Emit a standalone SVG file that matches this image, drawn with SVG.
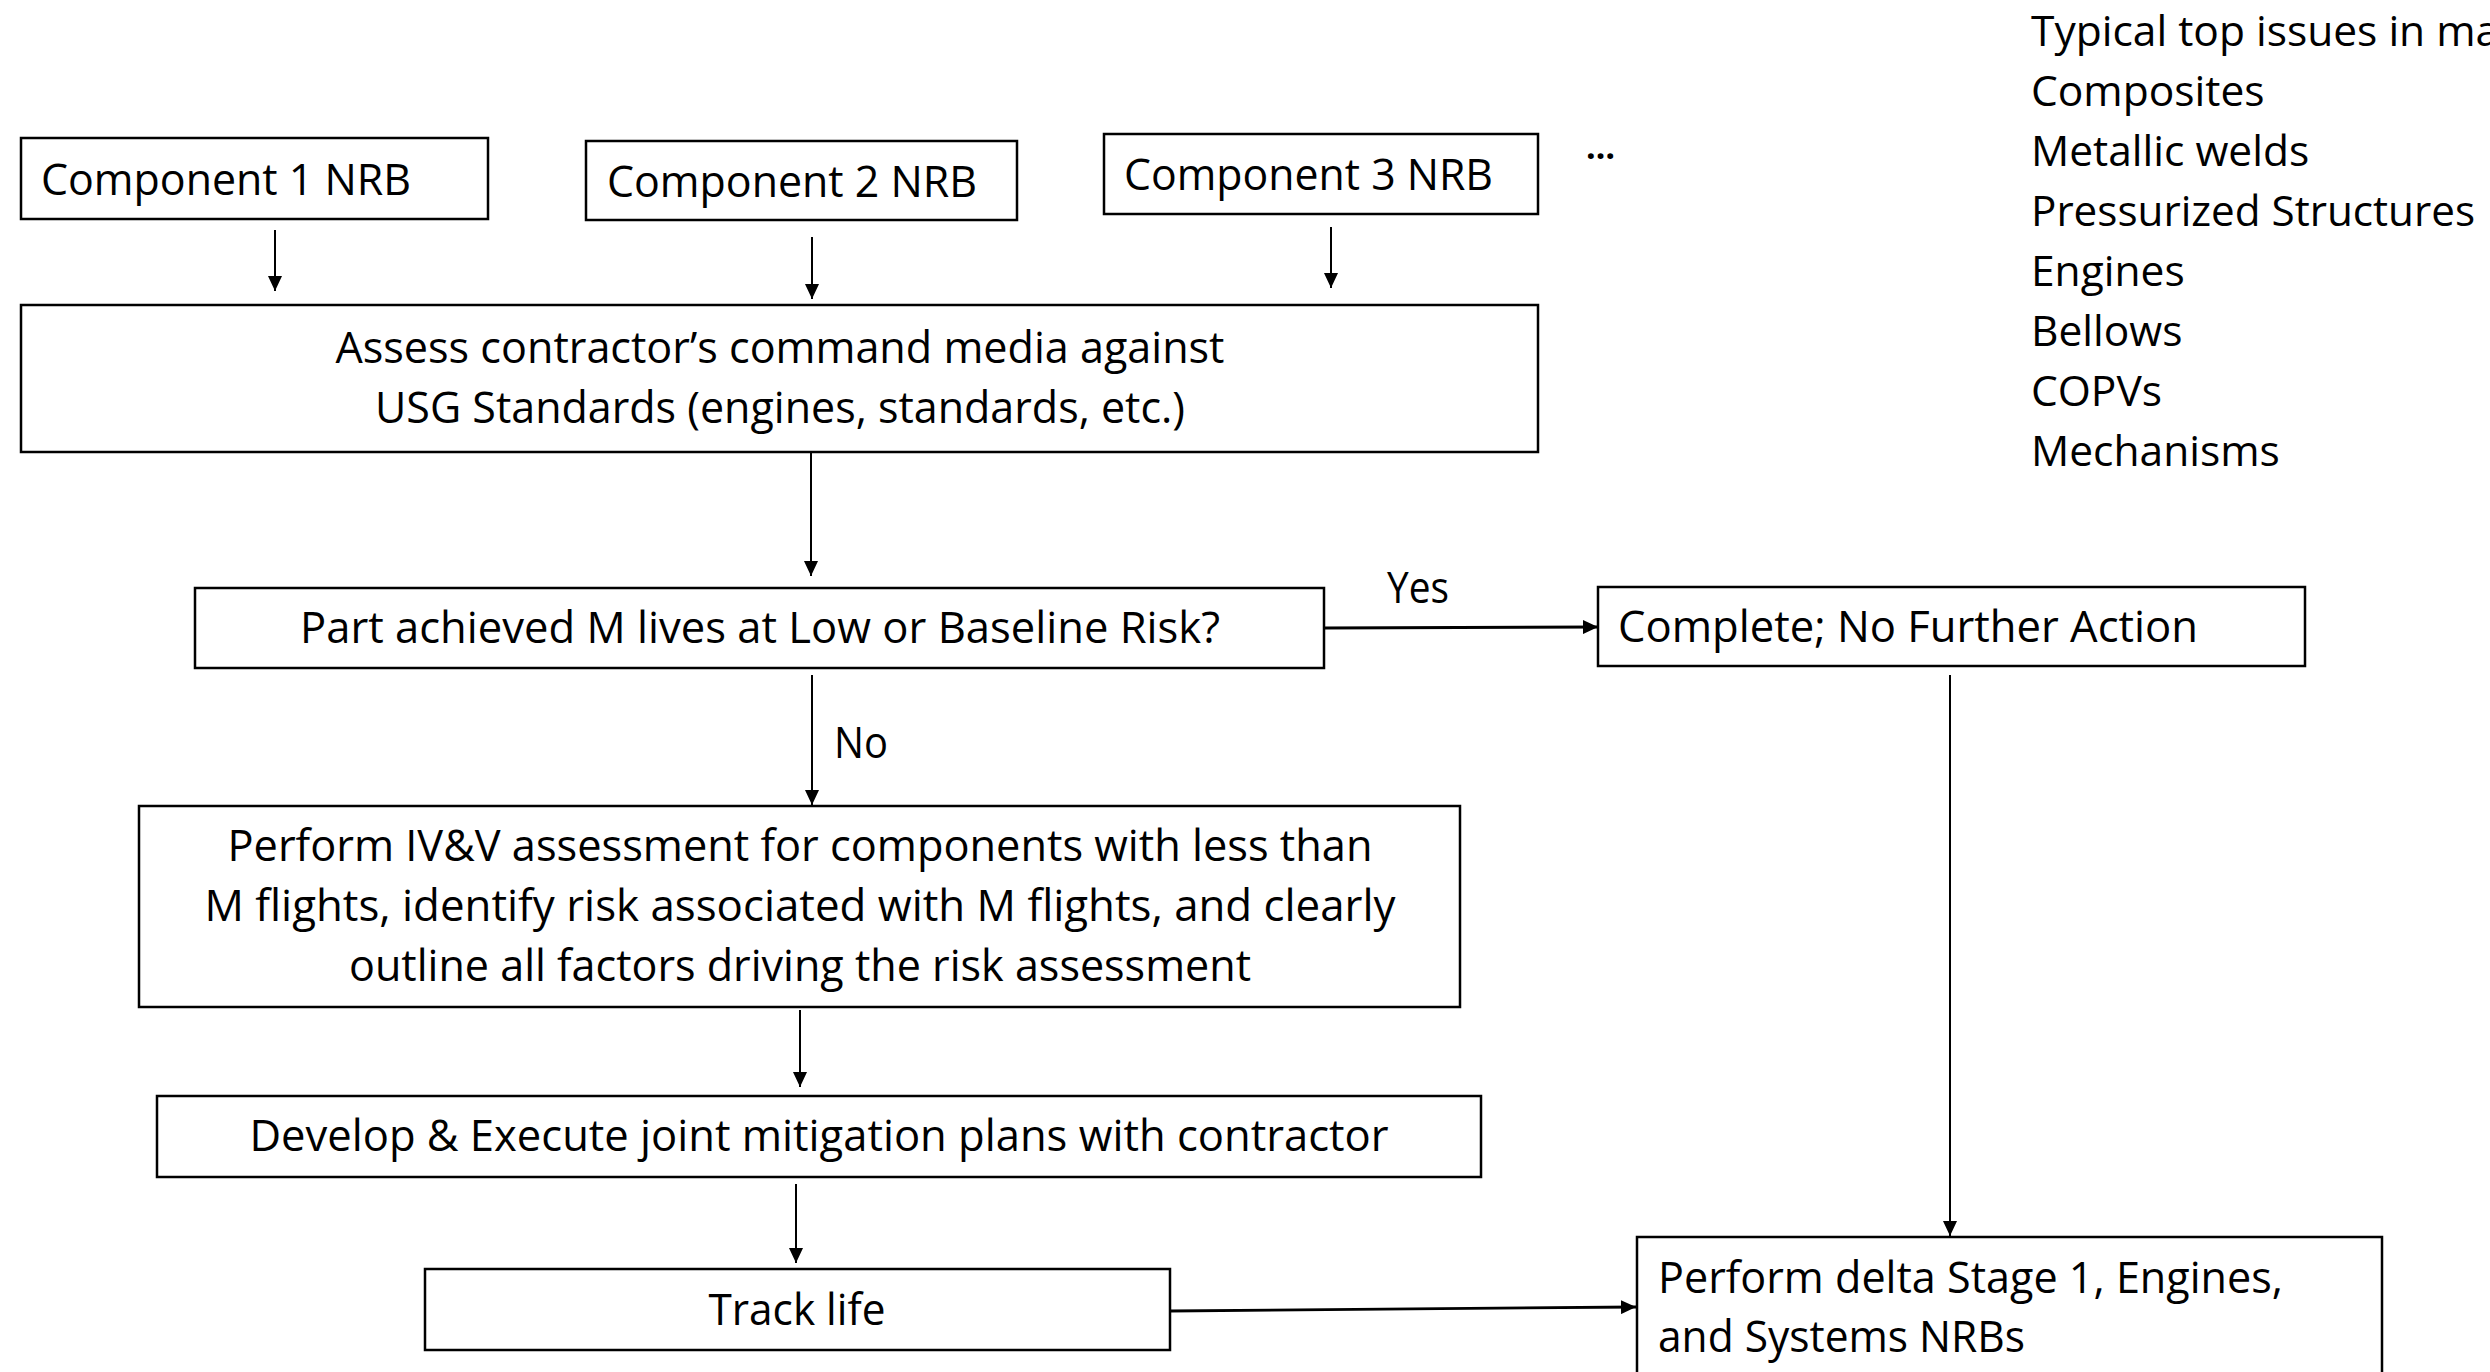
<svg xmlns="http://www.w3.org/2000/svg" width="2490" height="1372" viewBox="0 0 2490 1372">
  <defs>
    <marker id="arr" markerUnits="userSpaceOnUse" markerWidth="15" markerHeight="14" refX="15" refY="7" orient="auto">
      <path d="M0,0 L15,7 L0,14 z" fill="#000"/>
    </marker>
    <style>
      .box { fill: #fff; stroke: #000; stroke-width: 2.5; }
      .t { font-family: "Open Sans", "Liberation Sans", sans-serif; font-size: 43px; fill: #000; }
      .s { font-size: 42.5px; }
      .c { text-anchor: middle; }
      .conn { stroke: #000; stroke-width: 2; fill: none; marker-end: url(#arr); }
      .thick { stroke-width: 2.8; }
    </style>
  </defs>
  <rect width="2490" height="1372" fill="#fff"/>

  <g id="connectors">
    <line class="conn" x1="275" y1="230" x2="275" y2="291"/>
    <line class="conn" x1="812" y1="237" x2="812" y2="299"/>
    <line class="conn" x1="1331" y1="227" x2="1331" y2="288"/>
    <line class="conn" x1="811" y1="452" x2="811" y2="576"/>
    <line class="conn" x1="812" y1="675" x2="812" y2="805"/>
    <line class="conn thick" x1="1325" y1="628" x2="1598" y2="627"/>
    <line class="conn" x1="800" y1="1010" x2="800" y2="1087"/>
    <line class="conn" x1="796" y1="1184" x2="796" y2="1263"/>
    <line class="conn thick" x1="1170" y1="1311" x2="1636" y2="1307"/>
    <line class="conn" x1="1950" y1="675" x2="1950" y2="1236"/>
    <text class="t" x="1387" y="603" textLength="62" lengthAdjust="spacingAndGlyphs">Yes</text>
    <text class="t" x="834" y="758" textLength="54" lengthAdjust="spacingAndGlyphs">No</text>
  </g>

  <g id="comp1">
    <rect class="box" x="21" y="138" width="467" height="81"/>
    <text class="t" x="41" y="195" textLength="370" lengthAdjust="spacingAndGlyphs">Component 1 NRB</text>
  </g>
  <g id="comp2">
    <rect class="box" x="586" y="141" width="431" height="79"/>
    <text class="t" x="607" y="197" textLength="370" lengthAdjust="spacingAndGlyphs">Component 2 NRB</text>
  </g>
  <g id="comp3">
    <rect class="box" x="1104" y="134" width="434" height="80"/>
    <text class="t" x="1124" y="190" textLength="369" lengthAdjust="spacingAndGlyphs">Component 3 NRB</text>
  </g>
  <g id="ellipsis">
    <text class="t" x="1586" y="159" style="font-size:34px;font-weight:bold">…</text>
  </g>

  <g id="assess">
    <rect class="box" x="21" y="305" width="1517" height="147"/>
    <text class="t c" x="780" y="363" textLength="889" lengthAdjust="spacingAndGlyphs">Assess contractor’s command media against</text>
    <text class="t c" x="780" y="423" textLength="810" lengthAdjust="spacingAndGlyphs">USG Standards (engines, standards, etc.)</text>
  </g>

  <g id="decision">
    <rect class="box" x="195" y="588" width="1129" height="80"/>
    <text class="t c" x="760" y="643" textLength="920" lengthAdjust="spacingAndGlyphs">Part achieved M lives at Low or Baseline Risk?</text>
  </g>

  <g id="complete">
    <rect class="box" x="1598" y="587" width="707" height="79"/>
    <text class="t" x="1618" y="642" textLength="580" lengthAdjust="spacingAndGlyphs">Complete; No Further Action</text>
  </g>

  <g id="ivv">
    <rect class="box" x="139" y="806" width="1321" height="201"/>
    <text class="t c" x="800" y="861" textLength="1145" lengthAdjust="spacingAndGlyphs">Perform IV&amp;V assessment for components with less than</text>
    <text class="t c" x="800" y="921" textLength="1191" lengthAdjust="spacingAndGlyphs">M flights, identify risk associated with M flights, and clearly</text>
    <text class="t c" x="800" y="981" textLength="902" lengthAdjust="spacingAndGlyphs">outline all factors driving the risk assessment</text>
  </g>

  <g id="develop">
    <rect class="box" x="157" y="1096" width="1324" height="81"/>
    <text class="t c" x="819" y="1151" textLength="1139" lengthAdjust="spacingAndGlyphs">Develop &amp; Execute joint mitigation plans with contractor</text>
  </g>

  <g id="track">
    <rect class="box" x="425" y="1269" width="745" height="81"/>
    <text class="t c" x="797" y="1325" textLength="177" lengthAdjust="spacingAndGlyphs">Track life</text>
  </g>

  <g id="delta">
    <rect class="box" x="1637" y="1237" width="745" height="200"/>
    <text class="t" x="1658" y="1293" textLength="625" lengthAdjust="spacingAndGlyphs">Perform delta Stage 1, Engines,</text>
    <text class="t" x="1658" y="1352" textLength="367" lengthAdjust="spacingAndGlyphs">and Systems NRBs</text>
  </g>

  <g id="issues">
    <text class="t s" x="2031" y="46">Typical top issues in ma</text>
    <text class="t s" x="2031" y="106">Composites</text>
    <text class="t s" x="2031" y="166">Metallic welds</text>
    <text class="t s" x="2031" y="226" textLength="444" lengthAdjust="spacingAndGlyphs">Pressurized Structures</text>
    <text class="t s" x="2031" y="286">Engines</text>
    <text class="t s" x="2031" y="346">Bellows</text>
    <text class="t s" x="2031" y="406">COPVs</text>
    <text class="t s" x="2031" y="466">Mechanisms</text>
  </g>
</svg>
